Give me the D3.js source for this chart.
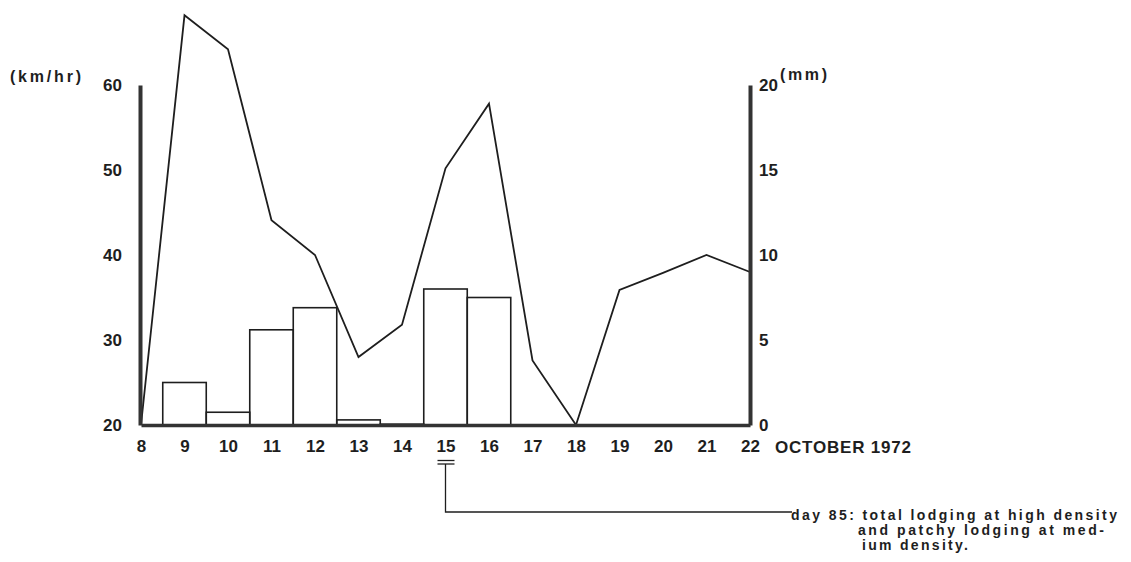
<!DOCTYPE html>
<html>
<head>
<meta charset="utf-8">
<script src="https://cdn.jsdelivr.net/npm/d3@7"></script>
<style>
  html, body { margin: 0; padding: 0; background: #fff; }
  svg { display: block; }
  text { font-family: "Liberation Sans", Arial, sans-serif; font-weight: bold; fill: #1e1e1e; }
</style>
</head>
<body>
<svg id="chart" width="1131" height="562"></svg>
<script>
// Days of October 1972
const days = [8, 9, 10, 11, 12, 13, 14, 15, 16, 17, 18, 19, 20, 21, 22];
// Maximum wind speed (km/hr)
const windSpeed = [20, 68.2, 64.2, 44.1, 40, 28, 31.8, 50.2, 57.8, 27.6, 20, 35.9, 37.9, 40, 38];
// Daily rainfall (mm)
const rainDays = [9, 10, 11, 12, 13, 14, 15, 16];
const rainfall = [2.5, 0.75, 5.6, 6.9, 0.3, 0.05, 8.0, 7.5];
// Axis tick labels
const windTicks = [20, 30, 40, 50, 60];
const rainTicks = [0, 5, 10, 15, 20];
const noteLines = ["day 85: total lodging at high density", "and patchy lodging at med-", "ium density."];

const svg = d3.select("#chart");
const ink = "#1e1e1e";

const x = d3.scaleLinear().domain([8, 22]).range([141, 750]);
const yWind = d3.scaleLinear().domain([20, 60]).range([425, 85]);
const yRain = d3.scaleLinear().domain([0, 20]).range([425, 85]);
const step = x(9) - x(8);

// Rainfall bars
svg.append("g").selectAll("rect")
  .data(rainDays.map((d, i) => ({ day: d, mm: rainfall[i] })))
  .join("rect")
  .attr("x", d => x(d.day) - step / 2)
  .attr("width", step)
  .attr("y", d => yRain(d.mm))
  .attr("height", d => yRain(0) - yRain(d.mm))
  .attr("fill", "none")
  .attr("stroke", ink)
  .attr("stroke-width", 1.6);

// Wind speed line
const line = d3.line().x(d => x(d[0])).y(d => yWind(d[1]));
svg.append("path")
  .datum(days.map((d, i) => [d, windSpeed[i]]))
  .attr("d", line)
  .attr("fill", "none")
  .attr("stroke", ink)
  .attr("stroke-width", 1.8)
  .attr("stroke-linejoin", "miter");

const tickFont = 17;

// Left axis (wind)
const leftAxis = d3.axisLeft(yWind).tickValues(windTicks).tickSize(0).tickPadding(18);
const gl = svg.append("g").attr("transform", `translate(${x(8) - 1},0)`).call(leftAxis);
gl.select(".domain").attr("stroke", "#333").attr("stroke-width", 4);
gl.selectAll(".tick text").attr("font-size", tickFont).attr("font-family", null).attr("fill", ink);

// Right axis (rain)
const rightAxis = d3.axisRight(yRain).tickValues(rainTicks).tickSize(0).tickPadding(9);
const gr = svg.append("g").attr("transform", `translate(${x(22)},0)`).call(rightAxis);
gr.select(".domain").attr("stroke", "#333").attr("stroke-width", 4);
gr.selectAll(".tick text").attr("font-size", tickFont).attr("font-family", null).attr("fill", ink);

// Bottom axis (days)
const bottomAxis = d3.axisBottom(x).tickValues(days).tickFormat(d3.format("d")).tickSize(0).tickPadding(15);
const gb = svg.append("g").attr("transform", `translate(0,${yWind(20)})`).call(bottomAxis);
gb.select(".domain").attr("stroke", "#333").attr("stroke-width", 3.5);
gb.selectAll(".tick text").attr("font-size", tickFont).attr("font-family", null).attr("fill", ink);

// Units and month label
svg.append("text").attr("x", 10).attr("y", 82).attr("font-size", 16)
  .attr("textLength", 71).attr("lengthAdjust", "spacing").text("(km/hr)");
svg.append("text").attr("x", 780).attr("y", 80).attr("font-size", 16)
  .attr("textLength", 47).attr("lengthAdjust", "spacing").text("(mm)");
svg.append("text").attr("x", 775).attr("y", 453).attr("font-size", tickFont)
  .attr("textLength", 136).attr("lengthAdjust", "spacing").text("OCTOBER 1972");

// Lodging note marker at day 15
const mx = x(15);
const note = svg.append("g").attr("stroke", ink).attr("fill", "none");
note.append("line").attr("x1", mx - 8).attr("x2", mx + 9).attr("y1", 460.5).attr("y2", 460.5).attr("stroke-width", 1.3);
note.append("line").attr("x1", mx - 8).attr("x2", mx + 9).attr("y1", 464).attr("y2", 464).attr("stroke-width", 1.3);
note.append("path")
  .attr("d", `M${mx},464V512H792`)
  .attr("stroke-width", 1.3);

const noteX = [791, 858, 862];
const noteY = [520, 535, 550];
const noteW = [326, 246, 106];
svg.append("g").selectAll("text")
  .data(noteLines)
  .join("text")
  .attr("x", (d, i) => noteX[i])
  .attr("y", (d, i) => noteY[i])
  .attr("font-size", 14)
  .attr("textLength", (d, i) => noteW[i])
  .attr("lengthAdjust", "spacing")
  .text(d => d);
</script>
</body>
</html>
